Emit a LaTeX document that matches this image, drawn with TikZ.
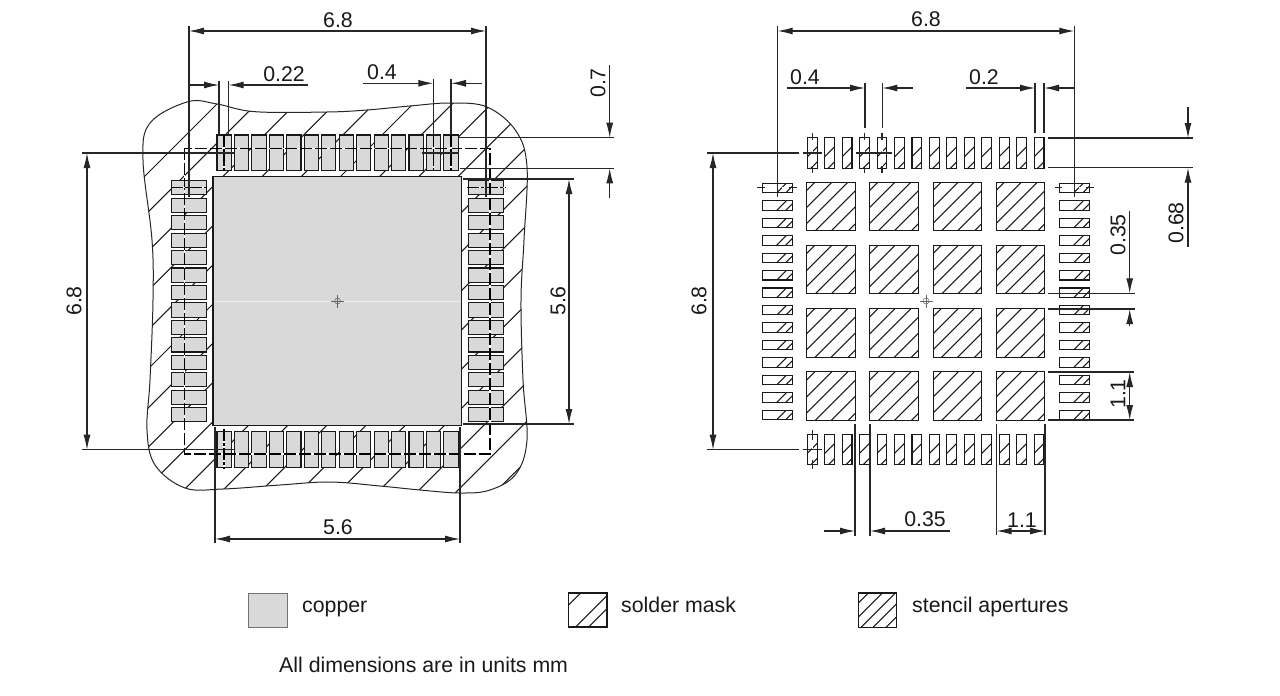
\documentclass[tikz,border=0pt]{standalone}
\usepackage{fontspec}
\setmainfont{Liberation Sans}
\usetikzlibrary{arrows.meta}

\definecolor{coppergray}{HTML}{D9D9D9}

\tikzset{
    lab/.style={inner sep=0pt, font=\fontsize{21.3}{25}\selectfont, text=black!90},
    padline/.style={line width=1.1pt, draw=black!90},
    hatchline/.style={line width=1.05pt, draw=black!90},
    extline/.style={line width=1.05pt, draw=black!85},
    dimline/.style={line width=1.05pt, draw=black!85},
    dim/.style={dimline, {Latex[length=15pt,width=7pt]}-{Latex[length=15pt,width=7pt]}},
    dimto/.style={dimline, -{Latex[length=15pt,width=7pt]}},
    dashline/.style={line width=1.05pt, draw=black, dash pattern=on 12pt off 3pt},
    centerline/.style={line width=1.05pt, draw=black, dash pattern=on 12pt off 2pt on 3pt off 2pt},
    whiteline/.style={line width=1.05pt, draw=white},
    whitedash/.style={line width=1pt, draw=white, dash pattern=on 5pt off 4pt},
    coppermark/.style={line width=0.5pt, draw=black!60}
}

% box with diagonal hatch: x, y, w, h, offsets
\newcommand{\hatchbox}[5]{
    \begin{scope}
        \clip (#1,#2) rectangle ++(#3,#4);
        \foreach \o in {#5} \draw[hatchline] (#1,#2+\o) -- (#1+\o,#2);
    \end{scope}
    \draw[padline] (#1,#2) rectangle ++(#3,#4);
}

\newcommand{\blobshape}{plot[smooth cycle, tension=0.6] coordinates {
    (188,101.7) (217,104) (255,111.7) (327,112) (367,110) (410,106) (450,103) (487,107)
    (516,131) (527,167) (524,240) (521,300) (523,380) (527,440) (516,474) (490,490)
    (460,493) (420,490) (380,486) (330,482) (280,485) (223,489) (185,488) (155,465)
    (147,430) (150,380) (153,300) (152,240) (143,160) (150,123)}}

\begin{document}
\begin{tikzpicture}[x=1pt, y=-1pt]
    \useasboundingbox (0,0) rectangle (1280,696);

    % left: copper and solder mask
    \begin{scope}
        \clip \blobshape;
        \foreach \k in {0,...,18}
            \draw[hatchline] (321+39.2*\k-60,60) -- (321+39.2*\k-520,520);
    \end{scope}
    \draw[line width=1pt, draw=black!85] \blobshape;

    \draw[line width=1.1pt, draw=black!90, fill=coppergray] (213,176.7) rectangle (461.7,425.3);
    \draw[line width=1pt, draw=white!93!black] (214,301) -- (461,301);
    \draw[coppermark] (337.5,301) circle (3);
    \draw[coppermark] (331,301) -- (344,301);
    \draw[coppermark] (337.5,294.5) -- (337.5,307.5);

    \foreach \i in {0,...,13} {
        \draw[padline, fill=coppergray] (217+17.45*\i,135) rectangle ++(14.2,35.7);
        \draw[padline, fill=coppergray] (217+17.45*\i,431.7) rectangle ++(14.2,35.6);
        \draw[padline, fill=coppergray] (171.3,180.7+17.45*\i) rectangle ++(35.4,14.2);
        \draw[padline, fill=coppergray] (468.3,180.7+17.45*\i) rectangle ++(35.2,14.2);
    }

    \draw[whiteline] (184.3,148.3) rectangle (490,454);
    \draw[dashline] (184.3,148.3) rectangle (490,454);

    % left: centre lines
    \foreach \xpos in {224,433.3,451} {
        \draw[whiteline] (\xpos,135) -- (\xpos,172.7);
        \draw[centerline] (\xpos,135) -- (\xpos,172.7);
    }
    \draw[whiteline] (224,431) -- (224,469);
    \draw[centerline] (224,429) -- (224,469);
    \draw[whiteline] (171,187.7) -- (209,187.7);
    \draw[centerline] (171,187.7) -- (209,187.7);
    \draw[whiteline] (467,187.7) -- (506,187.7);
    \draw[centerline] (467,187.7) -- (506,187.7);

    % left: dimensions
    \draw[extline] (189,26) -- (189,197);
    \draw[extline] (486,26) -- (486,197);
    \draw[dim] (189,31) -- (486,31);
    \node[lab] (wa) at (338,20) {6.8};

    \draw[extline] (219,81) -- (219,135);
    \draw[extline] (228.7,81) -- (228.7,135);
    \draw[dimto] (189,85) -- (219,85);
    \draw[dimto] (308,85) -- (228.7,85);
    \node[lab] (wb) at (284,74) {0.22};

    \draw[extline] (433.3,79) -- (433.3,135);
    \draw[extline] (451,79) -- (451,135);
    \draw[dimto] (363,83.3) -- (433.3,83.3);
    \draw[dimto] (481.7,83.3) -- (451,83.3);
    \node[lab] (wc) at (382,72) {0.4};

    \draw[extline] (458,137.7) -- (614,137.7);
    \draw[extline] (460,168.3) -- (614,168.3);
    \draw[dimto] (609.7,65) -- (609.7,137.7);
    \draw[dimto] (609.7,198) -- (609.7,168.3);
    \node[lab, rotate=90] (wd) at (598,83) {0.7};

    \draw[extline] (463,179) -- (574,179);
    \draw[extline] (463,424) -- (574,424);
    \draw[dim] (569,179) -- (569,424);
    \node[lab, rotate=90] (we) at (558,301) {5.6};

    \draw[extline] (82,153) -- (234,153);
    \draw[extline] (82,449.7) -- (234,449.7);
    \draw[dim] (87,153) -- (87,449.7);
    \node[lab, rotate=90] (wf) at (74,301) {6.8};
    \draw[extline] (421.7,153) -- (459,153);

    \draw[extline] (215,427) -- (215,543);
    \draw[extline] (460,427) -- (460,543);
    \draw[dim] (215,539) -- (460,539);
    \node[lab] (wg) at (338,527) {5.6};

    % right: pads and apertures
    \foreach \i in {0,...,13} {
        \hatchbox{807.3+17.45*\i}{137.7}{9.8}{30.6}{19,34}
        \hatchbox{807.3+17.45*\i}{434.3}{9.8}{30.6}{19,34}
        \hatchbox{762.3}{183.3+17.45*\i}{30.4}{9.4}{24,33}
        \hatchbox{1059.3}{183.3+17.45*\i}{30}{9.4}{24,33}
    }
    \foreach \i in {0,...,3} \foreach \j in {0,...,3} {
        \hatchbox{806.7+63.2*\i}{182.3+63.2*\j}{48.5}{48.4}{8,25,41,57,73,90}
    }
    \draw[coppermark] (926,301) circle (3);
    \draw[coppermark] (919.5,301) -- (932.5,301);
    \draw[coppermark] (926,294.5) -- (926,307.5);

    % right: centre lines
    \foreach \xpos in {812.3,864.6,882} {
        \draw[whitedash] (\xpos,138) -- (\xpos,168);
        \draw[extline] (\xpos,132.7) -- (\xpos,140);
        \draw[extline] (\xpos,166) -- (\xpos,172.7);
    }
    \draw[extline] (802.7,153) -- (821.7,153);
    \draw[extline] (856,153) -- (891.7,153);
    \draw[whitedash] (812.3,435) -- (812.3,465);
    \draw[extline] (812.3,430) -- (812.3,440);
    \draw[extline] (812.3,460) -- (812.3,469);
    \draw[extline] (803,449.7) -- (822,449.7);
    \draw[whitedash] (764,187.7) -- (791,187.7);
    \draw[whitedash] (1061,187.7) -- (1088,187.7);
    \draw[extline] (757,187.7) -- (765,187.7);
    \draw[extline] (789,187.7) -- (797,187.7);
    \draw[extline] (1055,187.7) -- (1062,187.7);
    \draw[extline] (1086,187.7) -- (1094,187.7);

    % right: dimensions
    \draw[extline] (777.7,26) -- (777.7,197);
    \draw[extline] (1074.3,26) -- (1074.3,197);
    \draw[dim] (777.7,31) -- (1074.3,31);
    \node[lab] (ra) at (926,19) {6.8};

    \draw[extline] (865,83.3) -- (865,128);
    \draw[extline] (882.3,83.3) -- (882.3,128);
    \draw[dimto] (787,88) -- (865,88);
    \draw[dimto] (913,88) -- (882.3,88);
    \node[lab] (rb) at (805,77) {0.4};

    \draw[extline] (1035,83.3) -- (1035,133);
    \draw[extline] (1044,83.3) -- (1044,133);
    \draw[dimto] (966,88) -- (1035,88);
    \draw[dimto] (1074,88) -- (1044,88);
    \node[lab] (rc) at (984,77) {0.2};

    \draw[extline] (1048,138) -- (1192.7,138);
    \draw[extline] (1048,167.7) -- (1192.7,167.7);
    \draw[dimto] (1188,106.7) -- (1188,138);
    \draw[dimto] (1188,246.7) -- (1188,167.7);
    \node[lab, rotate=90] (rd) at (1176,223) {0.68};

    \draw[extline] (1048,293.3) -- (1135,293.3);
    \draw[extline] (1048,309) -- (1135,309);
    \draw[dimto] (1129.7,210.7) -- (1129.7,293.3);
    \draw[dimto] (1129.7,326) -- (1129.7,309);
    \node[lab, rotate=90] (re) at (1118,235) {0.35};

    \draw[extline] (1048,372) -- (1134,372);
    \draw[extline] (1048,420) -- (1134,420);
    \draw[dim] (1129.7,372) -- (1129.7,420);
    \node[lab, rotate=90] (rf) at (1118,394) {1.1};

    \draw[extline] (707,153) -- (799,153);
    \draw[extline] (707,449.7) -- (799,449.7);
    \draw[dim] (713,153) -- (713,449.7);
    \node[lab, rotate=90] (rg) at (699,301) {6.8};

    \draw[extline] (855,424) -- (855,536);
    \draw[extline] (870,424) -- (870,536);
    \draw[dimto] (824,531) -- (855,531);
    \draw[dimto] (950,531) -- (870,531);
    \node[lab] (rh) at (925,519) {0.35};

    \draw[extline] (996.7,424) -- (996.7,535);
    \draw[extline] (1045,424) -- (1045,535);
    \draw[dim] (996.7,531) -- (1045,531);
    \node[lab] (ri) at (1022,520) {1.1};

    % legend
    \draw[line width=1pt, draw=black!55, fill=coppergray] (248.5,593) rectangle (287.5,627);
    \node[lab, anchor=base west] (copper) at (302,612) {copper};
    \hatchbox{568.5}{593}{38.5}{34}{12,41,54}
    \node[lab, anchor=base west] (mask) at (621,612) {solder mask};
    \hatchbox{858.3}{593}{38}{34.5}{10,24,37,49,62}
    \node[lab, anchor=base west] (stencil) at (912,612) {stencil apertures};
    \node[lab, anchor=base west] (units) at (279,672) {All dimensions are in units mm};
\end{tikzpicture}
\end{document}
